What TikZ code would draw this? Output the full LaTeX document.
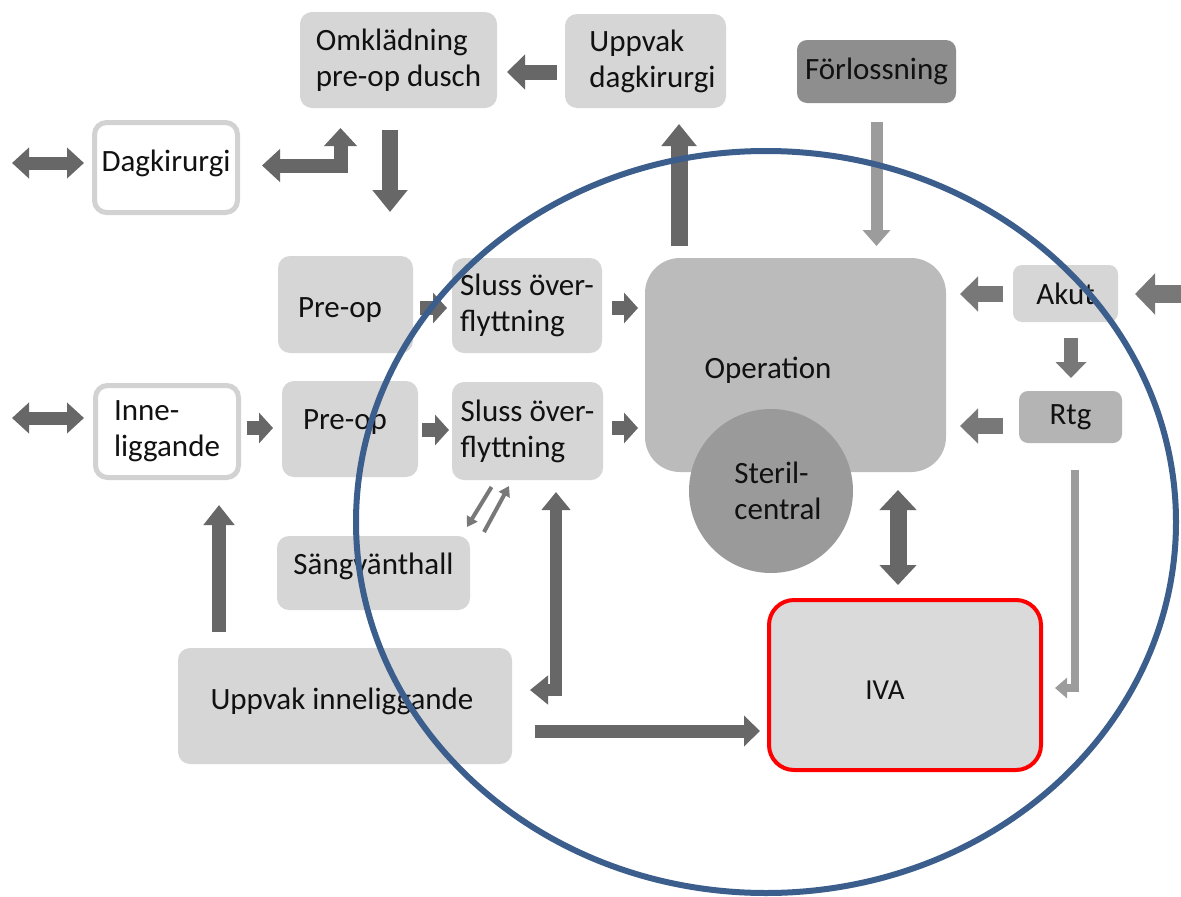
\documentclass[tikz,border=0pt]{standalone}
\usepackage{fontspec}
\setmainfont{Carlito}
\usetikzlibrary{arrows.meta}
\definecolor{boxg}{HTML}{D6D6D6}
\definecolor{opg}{HTML}{BBBBBB}
\definecolor{sterg}{HTML}{9A9A9A}
\definecolor{forg}{HTML}{8E8E8E}
\definecolor{rtgg}{HTML}{B4B4B4}
\definecolor{arrd}{HTML}{676767}
\definecolor{arrm}{HTML}{787878}
\definecolor{arrl}{HTML}{9C9C9C}
\definecolor{ringb}{HTML}{3B5E8D}
\definecolor{bordg}{HTML}{D2D2D2}
\definecolor{txt}{HTML}{111111}
\begin{document}
\begin{tikzpicture}[x=1pt,y=-1pt,
  every node/.style={font=\fontsize{31}{36}\selectfont, text=txt, inner sep=0pt, outer sep=0pt},
  box/.style={rounded corners=12pt, fill=boxg, align=left},
  wbox/.style={rounded corners=12pt, fill=white, draw=bordg, line width=5pt, align=left},
  arr/.style n args={3}{draw=arrd, line width=#1, line join=miter, -{Triangle[width=#2,length=#3]}},
  darr/.style n args={3}{draw=arrd, line width=#1, line join=miter, {Triangle[width=#2,length=#3]}-{Triangle[width=#2,length=#3]}}
]
\useasboundingbox (0,0) rectangle (1181,897);
\fill[white] (0,0) rectangle (1181,897);

% nodes
\node[box, minimum width=197pt, minimum height=96pt] (omk) at (398.5,60) {Omklädning\\pre-op dusch};
\node[box, minimum width=161pt, minimum height=94pt, label={[align=left,xshift=7pt]center:Uppvak\\dagkirurgi}] (uppd) at (645.5,61) {};
\node[box, fill=forg, rounded corners=10pt, minimum width=159pt, minimum height=63pt] (forl) at (876.5,71.5) {Förlossning};
\node[wbox, minimum width=143pt, minimum height=90pt, label={[yshift=4pt]center:Dagkirurgi}] (dag) at (166,167.5) {};
\node[box, minimum width=135pt, minimum height=97pt, label={[xshift=-5.5pt,yshift=-5.5pt]center:Pre-op}] (pre1) at (345.5,304.5) {};
\node[box, minimum width=150pt, minimum height=95pt] (sl1) at (527,305.5) {Sluss över-\\flyttning};
\node[box, fill=opg, rounded corners=35pt, minimum width=301pt, minimum height=214pt, label={[xshift=-27.5pt,yshift=-5pt]center:Operation}] (op) at (795.5,365) {};
\node[circle, fill=sterg, minimum size=164pt, label={[align=left,xshift=7pt]center:Steril-\\central}] (ster) at (771,491) {};
\node[box, rounded corners=9pt, minimum width=105pt, minimum height=57pt] (akut) at (1065.5,293.5) {Akut};
\node[box, fill=rtgg, rounded corners=9pt, minimum width=103pt, minimum height=52pt] (rtg) at (1070.5,417) {Rtg};
\node[wbox, minimum width=143pt, minimum height=92pt, label={[align=left]center:Inne-\\liggande}] (inne) at (167,431.5) {};
\node[box, minimum width=136pt, minimum height=96pt, label={[xshift=-5pt,yshift=7pt]center:Pre-op}] (pre2) at (350,429) {};
\node[box, minimum width=151pt, minimum height=98pt] (sl2) at (527.5,431) {Sluss över-\\flyttning};
\node[box, minimum width=193pt, minimum height=74pt, label={[yshift=7pt]center:Sängvänthall}] (sang) at (373.5,573) {};
\node[box, minimum width=334pt, minimum height=116pt, label={[xshift=-3pt,yshift=5pt]center:Uppvak inneliggande}] (uppi) at (345,706) {};
\node[box, fill=boxg!90!white, draw=red, line width=4pt, rounded corners=25pt, minimum width=272pt, minimum height=170pt, label={[xshift=-20pt,yshift=-5pt,font=\fontsize{29}{34}\selectfont]center:IVA}] (iva) at (905,685) {};

% coordinates for free ends
\coordinate (dagL) at (12,163);
\coordinate (inneL) at (12,418);
\coordinate (omkD) at (390,212);
\coordinate (akR) at (1181,294);

% connectors
\draw[arr={15pt}{34pt}{18pt}, shorten <=8pt, shorten >=10pt] ([yshift=-11pt]uppd.west) -- ([yshift=-12pt]omk.east);
\draw[darr={13pt}{30pt}{17pt}, shorten >=10.5pt] (dagL) -- (dagL -| dag.west);
\draw[darr={14pt}{32pt}{18pt}] ([xshift=24.5pt,yshift=2pt]dag.east) -| ([xshift=-58pt,yshift=-20pt]omk.south);
\draw[arr={16pt}{34pt}{22pt}] ([xshift=-8.5pt,yshift=-22pt]omk.south) -- (omkD);
\draw[arr={14pt}{30pt}{14pt}, shorten <=7pt, shorten >=5pt] ([yshift=-3.5pt]pre1.east) -- ([yshift=-2.5pt]sl1.west);
\draw[arr={14pt}{30pt}{14pt}, shorten <=10pt, shorten >=7pt] ([yshift=-2.5pt]sl1.east) -- ([yshift=57pt]op.west);
\draw[darr={13pt}{30pt}{17pt}, shorten >=11.5pt] (inneL) -- (inneL -| inne.west);
\draw[arr={14pt}{30pt}{14pt}, shorten <=8.5pt, shorten >=9pt] ([yshift=3.5pt]inne.east) -- ([yshift=1pt]pre2.west);
\draw[arr={14pt}{30pt}{14pt}, shorten <=4pt, shorten >=3pt] ([yshift=-1pt]pre2.east) -- ([yshift=1pt]sl2.west);
\draw[arr={14pt}{30pt}{14pt}, shorten <=9pt, shorten >=7pt] ([yshift=3pt]sl2.east) -- ([yshift=-63pt]op.west);
\draw[arr={16pt}{34pt}{18pt}, draw=arrm, shorten <=10pt, shorten >=14pt] ([yshift=-0.5pt]akut.west) -- ([yshift=71pt]op.east);
\draw[arr={18pt}{40pt}{20pt}, draw=arrm, shorten >=17pt] (akR) -- (akR -| akut.east);
\draw[arr={14pt}{30pt}{16pt}, draw=arrm, shorten <=16pt, shorten >=13pt] ([xshift=5.5pt]akut.south) -- ([xshift=0.5pt]rtg.north);
\draw[arr={16pt}{34pt}{18pt}, draw=arrm, shorten <=16pt, shorten >=14pt] ([yshift=-9pt]rtg.west) -- ([yshift=-61pt]op.east);
\draw[arr={8pt}{20pt}{12pt}, draw=arrl] ([xshift=4.5pt,yshift=-27pt]rtg.south) |- ([xshift=14pt,yshift=-3pt]iva.east);
\draw[arr={17pt}{34pt}{22pt}] ([xshift=-116.5pt,yshift=12pt]op.north) -- ([xshift=33.5pt,yshift=-16pt]uppd.south);
\draw[arr={12pt}{27pt}{16pt}, draw=arrl, shorten <=19pt, shorten >=12pt] (forl.south) -- (forl.south |- op.north);
\draw[darr={17pt}{36pt}{20pt}] ([xshift=-7pt,yshift=110pt]iva.north) -- ([xshift=-7pt,yshift=15pt]iva.north);
\draw[arr={14pt}{30pt}{20pt}] ([xshift=-126pt,yshift=16pt]uppi.north) -- ([xshift=52pt,yshift=-27.5pt]inne.south);
\draw[darr={12pt}{28pt}{18pt}] ([xshift=28.5pt,yshift=-12pt]sl2.south) |- ([xshift=18pt,yshift=16pt]uppi.east);
\draw[arr={13pt}{30pt}{16pt}] ([xshift=23pt,yshift=-25pt]uppi.east) -- ([xshift=-9pt,yshift=-46pt]iva.west);
\draw[arr={4pt}{12pt}{10pt}, draw=arrm] ([xshift=-36pt,yshift=-7pt]sl2.south) -- ([xshift=-3pt,yshift=9pt]sang.north east);
\draw[arr={4pt}{12pt}{10pt}, draw=arrm] ([xshift=14pt,yshift=4pt]sang.north east) -- ([xshift=-18.5pt,yshift=-6pt]sl2.south);

% ring
\draw[ringb, line width=6pt] (766,522) ellipse [x radius=410pt, y radius=371pt];
\end{tikzpicture}
\end{document}
